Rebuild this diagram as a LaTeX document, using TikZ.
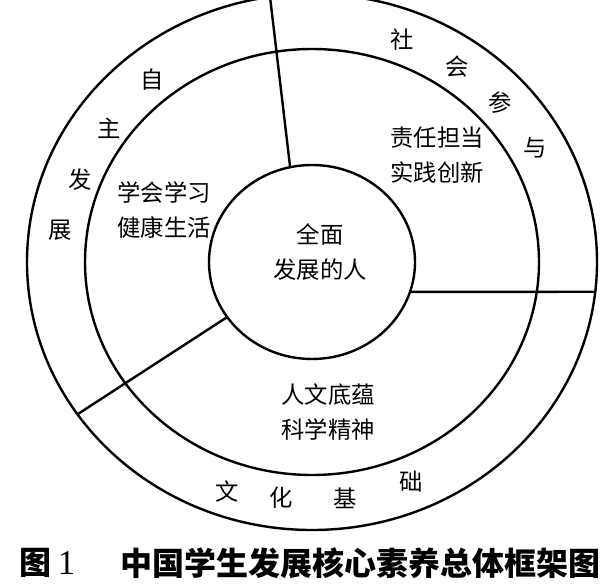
\documentclass[tikz,border=0pt]{standalone}
\usepackage{fontspec}
\newfontfamily\cjk{Noto Sans CJK SC}
\newfontfamily\numfont{Liberation Serif}
\usetikzlibrary{shapes.geometric}

\begin{document}
\begin{tikzpicture}[x=0.75pt, y=-0.75pt, line width=1.8pt,
    ring/.style={draw, ellipse, inner sep=0pt, outer sep=0pt},
    lbl/.style={inner sep=0pt, align=center, font=\cjk\fontsize{17.5}{26.25}\selectfont},
    caption/.style={inner sep=0pt, font=\cjk\bfseries\fontsize{24}{28}\selectfont}]
    \useasboundingbox (0,0) rectangle (609,584);
    \clip (0,0) rectangle (609,584);
    % rings
    \node[ring, minimum width=427.5pt, minimum height=402pt] (outer) at (312,262) {};
    \node[ring, minimum width=340.5pt, minimum height=319.5pt] (middle) at (312,262) {};
    \node[ring, minimum width=154.5pt, minimum height=145.5pt] (core) at (312,262) {};
    % dividers
    \draw (core.103) -- (outer.99);
    \draw (core.-17) -- (outer.-6);
    \draw (core.213) -- (outer.213);
    % inner texts
    \node[lbl] (whole) at (320,252) {全面\\发展的人};
    \node[lbl] (selfdev) at (164,210) {学会学习\\健康生活};
    \node[lbl] (social) at (437,155) {责任担当\\实践创新};
    \node[lbl] (culture) at (328,412) {人文底蕴\\科学精神};
    % ring texts
    \foreach \ch/\px/\py [count=\i] in {自/152/80, 主/109/128, 发/80/180, 展/60/230,
        社/402/40, 会/457/67, 参/500/103, 与/535/148,
        文/227/492, 化/281/498, 基/345/498, 础/411/482}
        \node[lbl] (ring\i) at (\px,\py) {\ch};
    % caption
    \node[caption, anchor=west] (fignum) at (18,563) {图\hspace{5pt}{\numfont\mdseries\fontsize{26}{28}\selectfont 1}};
    \node[caption, anchor=east] (figtitle) at (602,563) {中国学生发展核心素养总体框架图};
\end{tikzpicture}
\end{document}
